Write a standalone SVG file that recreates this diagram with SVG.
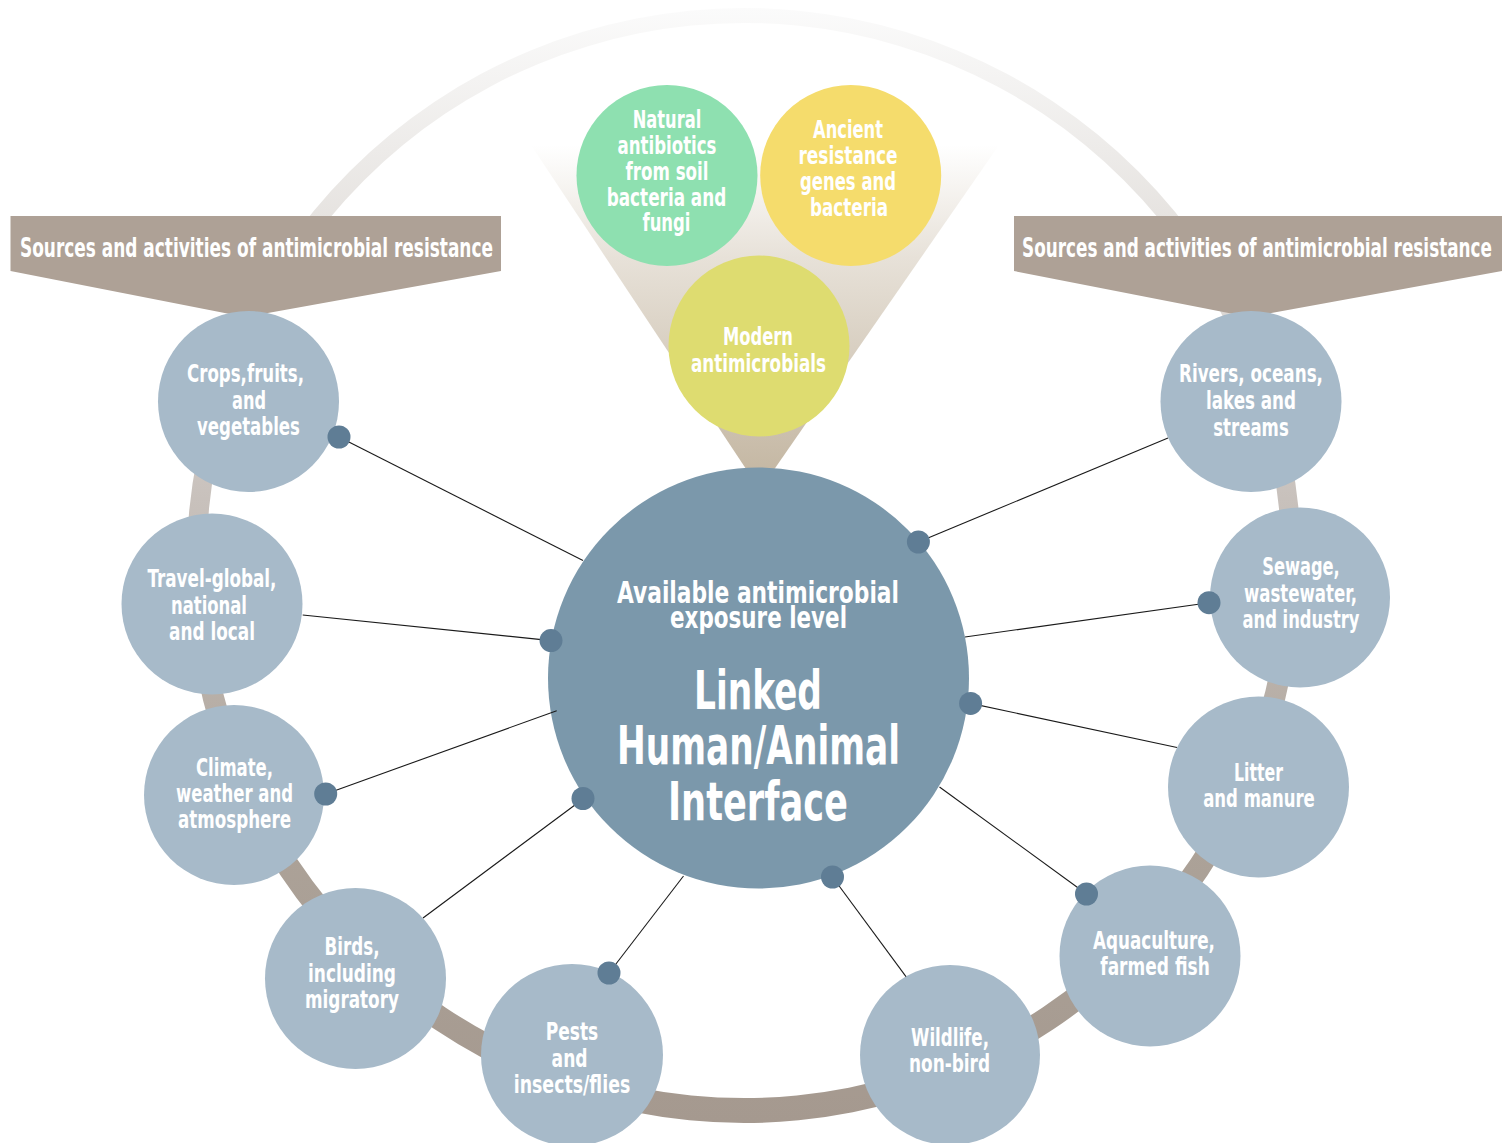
<svg xmlns="http://www.w3.org/2000/svg" width="1502" height="1143" viewBox="0 0 1502 1143">
<defs>
<linearGradient id="ringGrad" gradientUnits="userSpaceOnUse" x1="0" y1="8" x2="0" y2="1123">
<stop offset="0" stop-color="#fbfbfb"/>
<stop offset="0.19" stop-color="#e6e3e0"/>
<stop offset="0.44" stop-color="#c8c1bc"/>
<stop offset="0.75" stop-color="#aca298"/>
<stop offset="1" stop-color="#a5998f"/>
</linearGradient>
<linearGradient id="funnelGrad" gradientUnits="userSpaceOnUse" x1="0" y1="145" x2="0" y2="470">
<stop offset="0" stop-color="#ffffff"/>
<stop offset="0.35" stop-color="#e7e1d8"/>
<stop offset="1" stop-color="#c5b8a4"/>
</linearGradient>
<style>
.t{font-family:"Liberation Sans Narrow","DejaVu Sans Condensed","Liberation Sans",sans-serif;font-weight:bold;fill:#ffffff;text-anchor:middle;font-size:25.5px}
.ban{font-size:27px}
.sub{font-size:30px}
.big{font-size:53px}
.node{fill:#a7bac9}
.dot{fill:#5f7d95}
.banner{fill:#aea196}
.con line{stroke:#1a1a1a;stroke-width:1.1}
</style>
</defs>
<rect width="1502" height="1143" fill="#ffffff"/>
<path id="ring" fill="url(#ringGrad)" fill-rule="evenodd" d="M186.5,565.5a557.5,557.5 0 1,0 1115,0a557.5,557.5 0 1,0 -1115,0Z M206.5,560.5a537.5,537.5 0 1,0 1075,0a537.5,537.5 0 1,0 -1075,0Z"/>
<polygon id="funnel" fill="url(#funnelGrad)" points="531,145 999,145 760,490"/>
<g id="banner-left">
<polygon class="banner" points="10.5,216 501,216 501,271 245,317 10.5,271"/>
<text class="t ban" x="256.5" y="257" textLength="473" lengthAdjust="spacingAndGlyphs">Sources and activities of antimicrobial resistance</text>
</g>
<g id="banner-right">
<polygon class="banner" points="1014,216 1502,216 1502,271 1249,317 1014,271"/>
<text class="t ban" x="1257" y="257" textLength="470" lengthAdjust="spacingAndGlyphs">Sources and activities of antimicrobial resistance</text>
</g>
<g id="natural">
<circle cx="667" cy="175.5" r="90.5" fill="#8ee0b0"/>
<text class="t" x="667" y="128" textLength="68.5" lengthAdjust="spacingAndGlyphs">Natural</text>
<text class="t" x="667" y="154" textLength="99" lengthAdjust="spacingAndGlyphs">antibiotics</text>
<text class="t" x="667" y="180" textLength="83" lengthAdjust="spacingAndGlyphs">from soil</text>
<text class="t" x="666.5" y="206" textLength="119.6" lengthAdjust="spacingAndGlyphs">bacteria and</text>
<text class="t" x="666.5" y="231" textLength="48" lengthAdjust="spacingAndGlyphs">fungi</text>
</g>
<g id="ancient">
<circle cx="850.7" cy="175.5" r="90.5" fill="#f5dc6c"/>
<text class="t" x="848" y="138" textLength="70" lengthAdjust="spacingAndGlyphs">Ancient</text>
<text class="t" x="848" y="164" textLength="99" lengthAdjust="spacingAndGlyphs">resistance</text>
<text class="t" x="848" y="190" textLength="96" lengthAdjust="spacingAndGlyphs">genes and</text>
<text class="t" x="849" y="216" textLength="78" lengthAdjust="spacingAndGlyphs">bacteria</text>
</g>
<g id="modern">
<circle cx="759" cy="346" r="90.5" fill="#dedc70"/>
<text class="t" x="758" y="345" textLength="70" lengthAdjust="spacingAndGlyphs">Modern</text>
<text class="t" x="758.5" y="371.5" textLength="135" lengthAdjust="spacingAndGlyphs">antimicrobials</text>
</g>
<g id="center">
<circle cx="758.5" cy="678" r="210.5" fill="#7b98ab"/>
<text class="t sub" x="758" y="603" textLength="282" lengthAdjust="spacingAndGlyphs">Available antimicrobial</text>
<text class="t sub" x="758.5" y="628" textLength="177" lengthAdjust="spacingAndGlyphs">exposure level</text>
<text class="t big" x="758" y="709" textLength="128" lengthAdjust="spacingAndGlyphs">Linked</text>
<text class="t big" x="758.5" y="764" textLength="283" lengthAdjust="spacingAndGlyphs">Human/Animal</text>
<text class="t big" x="758" y="820" textLength="180" lengthAdjust="spacingAndGlyphs">Interface</text>
</g>
<g id="crops">
<circle class="node" cx="248.5" cy="401.5" r="90.5"/>
<text class="t" x="245.5" y="382" textLength="117" lengthAdjust="spacingAndGlyphs">Crops,fruits,</text>
<text class="t" x="249" y="408.5" textLength="34" lengthAdjust="spacingAndGlyphs">and</text>
<text class="t" x="248.5" y="435" textLength="103" lengthAdjust="spacingAndGlyphs">vegetables</text>
</g>
<g id="travel">
<circle class="node" cx="212" cy="604" r="90.5"/>
<text class="t" x="212" y="587" textLength="129" lengthAdjust="spacingAndGlyphs">Travel-global,</text>
<text class="t" x="209" y="613.5" textLength="76" lengthAdjust="spacingAndGlyphs">national</text>
<text class="t" x="212" y="640" textLength="86" lengthAdjust="spacingAndGlyphs">and local</text>
</g>
<g id="climate">
<circle class="node" cx="234" cy="795" r="90"/>
<text class="t" x="234.5" y="776" textLength="77" lengthAdjust="spacingAndGlyphs">Climate,</text>
<text class="t" x="234.5" y="802" textLength="117" lengthAdjust="spacingAndGlyphs">weather and</text>
<text class="t" x="234.5" y="828" textLength="113" lengthAdjust="spacingAndGlyphs">atmosphere</text>
</g>
<g id="birds">
<circle class="node" cx="355.5" cy="978.5" r="90.5"/>
<text class="t" x="352" y="955" textLength="55" lengthAdjust="spacingAndGlyphs">Birds,</text>
<text class="t" x="352" y="981.5" textLength="88" lengthAdjust="spacingAndGlyphs">including</text>
<text class="t" x="352" y="1007.5" textLength="94" lengthAdjust="spacingAndGlyphs">migratory</text>
</g>
<g id="pests">
<circle class="node" cx="572" cy="1055" r="91"/>
<text class="t" x="572" y="1040" textLength="52.5" lengthAdjust="spacingAndGlyphs">Pests</text>
<text class="t" x="569.6" y="1066.5" textLength="36" lengthAdjust="spacingAndGlyphs">and</text>
<text class="t" x="572" y="1093" textLength="116.5" lengthAdjust="spacingAndGlyphs">insects/flies</text>
</g>
<g id="wildlife">
<circle class="node" cx="950" cy="1055" r="90"/>
<text class="t" x="950" y="1046" textLength="78" lengthAdjust="spacingAndGlyphs">Wildlife,</text>
<text class="t" x="949.5" y="1072" textLength="81" lengthAdjust="spacingAndGlyphs">non-bird</text>
</g>
<g id="aquaculture">
<circle class="node" cx="1150" cy="956" r="90.5"/>
<text class="t" x="1154" y="949" textLength="122" lengthAdjust="spacingAndGlyphs">Aquaculture,</text>
<text class="t" x="1155" y="975" textLength="109.5" lengthAdjust="spacingAndGlyphs">farmed fish</text>
</g>
<g id="rivers">
<circle class="node" cx="1251" cy="401.5" r="90.5"/>
<text class="t" x="1251" y="382" textLength="144" lengthAdjust="spacingAndGlyphs">Rivers, oceans,</text>
<text class="t" x="1251" y="409" textLength="90" lengthAdjust="spacingAndGlyphs">lakes and</text>
<text class="t" x="1251" y="436" textLength="75.5" lengthAdjust="spacingAndGlyphs">streams</text>
</g>
<g id="sewage">
<circle class="node" cx="1300" cy="597.5" r="90"/>
<text class="t" x="1301" y="575" textLength="77.5" lengthAdjust="spacingAndGlyphs">Sewage,</text>
<text class="t" x="1300.5" y="602" textLength="113" lengthAdjust="spacingAndGlyphs">wastewater,</text>
<text class="t" x="1301" y="628" textLength="117" lengthAdjust="spacingAndGlyphs">and industry</text>
</g>
<g id="litter">
<circle class="node" cx="1258.5" cy="787" r="90.5"/>
<text class="t" x="1258.5" y="781" textLength="49" lengthAdjust="spacingAndGlyphs">Litter</text>
<text class="t" x="1259" y="806.5" textLength="111.6" lengthAdjust="spacingAndGlyphs">and manure</text>
</g>
<g id="connectors" class="con">
<line x1="339" y1="437" x2="583" y2="560.5"/>
<line x1="302.7" y1="615" x2="551" y2="640.6"/>
<line x1="325.7" y1="794" x2="556.7" y2="710.7"/>
<line x1="423" y1="918" x2="583" y2="799"/>
<line x1="609" y1="973" x2="683.5" y2="876"/>
<line x1="832.5" y1="877" x2="906" y2="976.7"/>
<line x1="1086.5" y1="894" x2="939.5" y2="787"/>
<line x1="970.6" y1="703.4" x2="1177" y2="747.5"/>
<line x1="1209" y1="602.7" x2="965" y2="637"/>
<line x1="918.4" y1="542" x2="1168" y2="438"/>
<circle class="dot" cx="339" cy="437" r="11.5"/>
<circle class="dot" cx="551" cy="640.6" r="11.5"/>
<circle class="dot" cx="325.7" cy="794" r="11.5"/>
<circle class="dot" cx="583" cy="798.5" r="11.5"/>
<circle class="dot" cx="609" cy="973" r="11.5"/>
<circle class="dot" cx="832.5" cy="877" r="11.5"/>
<circle class="dot" cx="1086.5" cy="894" r="11.5"/>
<circle class="dot" cx="970.6" cy="703.4" r="11.5"/>
<circle class="dot" cx="1209" cy="602.7" r="11.5"/>
<circle class="dot" cx="918.4" cy="542" r="11.5"/>
</g>
</svg>
